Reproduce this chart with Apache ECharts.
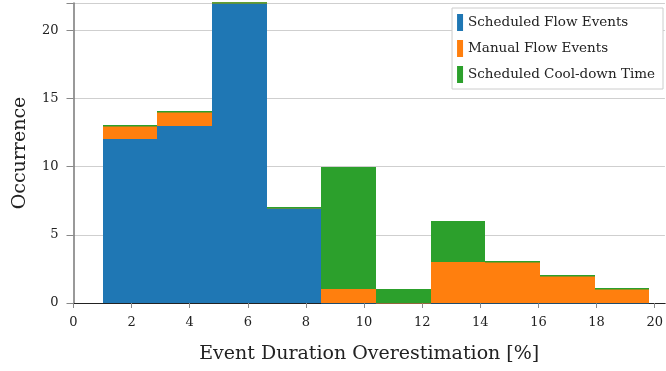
<!DOCTYPE html>
<html>
<head>
<meta charset="utf-8">
<script src="https://cdn.jsdelivr.net/npm/echarts@6/dist/echarts.min.js"></script>
<style>
  html, body { margin: 0; padding: 0; background: #fff; }
  #chart { width: 666px; height: 371px; }
</style>
</head>
<body>
<div id="chart"></div>
<script>
// histogram bin edges (percent)
var binEdges = [1.0, 2.88, 4.76, 6.65, 8.53, 10.41, 12.29, 14.17, 16.06, 17.94, 19.82];
// counts per bin, stacked in this order
var scheduledFlow = [12, 13, 22, 7, 0, 0, 0, 0, 0, 0];
var manualFlow = [1, 1, 0, 0, 1, 0, 3, 3, 2, 1];
var coolDown = [0, 0, 0, 0, 9, 1, 3, 0, 0, 0];
var yTicks = [0, 5, 10, 15, 20];

var names = ['Scheduled Flow Events', 'Manual Flow Events', 'Scheduled Cool-down Time'];
var colors = ['#1f77b4', '#ff7f0e', '#2ca02c'];
var layers = [scheduledFlow, manualFlow, coolDown];

var serifFont = 'DejaVu Serif';

// build [lo, hi, base, top] rows for each layer
var base = binEdges.slice(1).map(function () { return 0; });
var layerData = layers.map(function (vals) {
  return vals.map(function (v, i) {
    var row = [binEdges[i], binEdges[i + 1], base[i], base[i] + v];
    base[i] += v;
    return row;
  });
});

function renderBar(params, api) {
  var p0 = api.coord([api.value(0), api.value(2)]);
  var p1 = api.coord([api.value(1), api.value(3)]);
  // snap to whole pixels so neighbouring bins do not show seams
  var x0 = Math.round(p0[0]), x1 = Math.round(p1[0]);
  var yb = Math.round(p0[1]), yt = Math.round(p1[1]);
  var y = yt, h = yb - yt;
  if (h < 1) { y = yt - 1; h = 1.5; }
  var cs = params.coordSys;
  var shape = echarts.graphic.clipRectByRect(
    { x: x0, y: y, width: x1 - x0, height: h },
    { x: cs.x, y: cs.y - 0.7, width: cs.width, height: cs.height + 2 }
  );
  if (!shape) return;
  return { type: 'rect', shape: shape, style: { fill: api.visual('color') } };
}

var chart = echarts.init(document.getElementById('chart'));

var option = {
  animation: false,
  color: colors,
  grid: { left: 73.5, right: 1, top: 3, bottom: 68 },
  legend: {
    orient: 'vertical',
    right: 3,
    top: 8,
    data: names,
    icon: 'rect',
    itemWidth: 6,
    itemHeight: 17,
    itemGap: 9,
    padding: [6, 8, 6, 5],
    borderColor: '#cccccc',
    borderWidth: 1,
    borderRadius: 0,
    backgroundColor: '#fff',
    textStyle: { fontFamily: serifFont, fontSize: 13.5, color: '#222' }
  },
  xAxis: [{
    type: 'value',
    min: 0,
    max: 20.35,
    interval: 2,
    name: 'Event Duration Overestimation [%]',
    nameLocation: 'middle',
    nameGap: 42,
    nameTextStyle: { fontFamily: serifFont, fontSize: 19, color: '#222' },
    axisLine: { show: true, onZero: false, lineStyle: { color: '#222', width: 1.2 } },
    axisTick: { show: true, length: 5, lineStyle: { color: '#888' } },
    axisLabel: { fontFamily: serifFont, fontSize: 13, color: '#222', margin: 13 },
    splitLine: { show: false }
  }, {
    type: 'value',
    position: 'top',
    min: 0,
    max: 20.35,
    axisLine: { show: true, lineStyle: { color: '#222', width: 1.2 } },
    axisTick: { show: false },
    axisLabel: { show: false },
    splitLine: { show: false }
  }],
  yAxis: {
    type: 'value',
    min: 0,
    max: 22,
    interval: 5,
    name: 'Occurrence',
    nameLocation: 'middle',
    nameGap: 44,
    nameTextStyle: { fontFamily: serifFont, fontSize: 19, color: '#222' },
    axisLine: { show: true, lineStyle: { color: '#777', width: 1.5 } },
    axisTick: { show: true, length: 7, lineStyle: { color: '#888' } },
    axisLabel: {
      fontFamily: serifFont, fontSize: 13, color: '#222', margin: 15,
      formatter: function (v) { return yTicks.indexOf(v) >= 0 ? String(v) : ''; }
    },
    splitLine: { show: true, lineStyle: { color: '#cfcfcf', width: 1.2 } }
  },
  series: layerData.map(function (d, k) {
    return {
      type: 'custom',
      name: names[k],
      xAxisIndex: 0,
      renderItem: renderBar,
      encode: { x: [0, 1], y: [2, 3] },
      data: d,
      z: 2 + k
    };
  })
};

chart.setOption(option);
window.addEventListener('resize', function () { chart.resize(); });
</script>
</body>
</html>
